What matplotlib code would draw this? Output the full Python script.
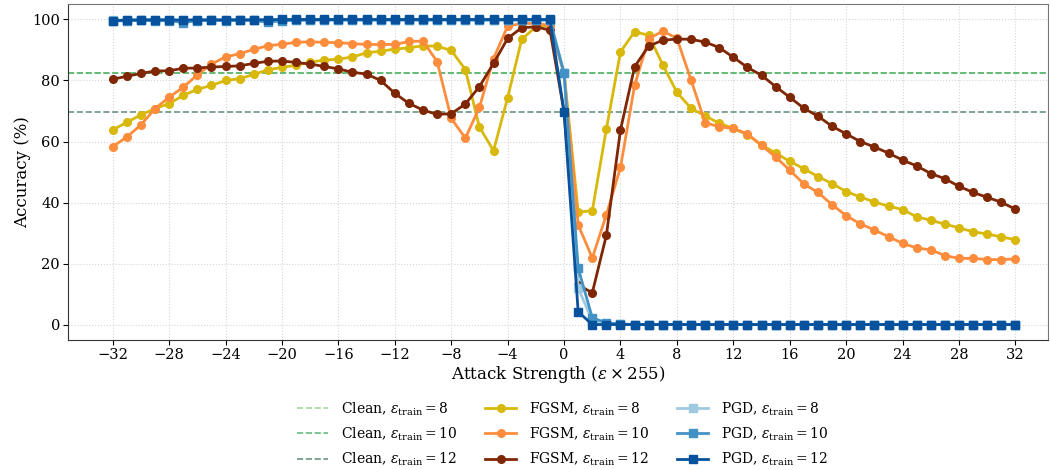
import numpy as np
import matplotlib
matplotlib.use("Agg")
import matplotlib.pyplot as plt

plt.rcParams['font.family'] = ['DejaVu Serif']
plt.rcParams['mathtext.fontset'] = 'dejavuserif'

eps = list(range(-32, 33))

clean_8 = 82.6
clean_10 = 82.3
clean_12 = 69.7

fgsm_8 = [63.8, 66.3, 68.7, 70.8, 72.4, 75.1, 77.1, 78.4, 80.0, 80.6, 82.0, 83.5, 84.3, 85.0,
          86.0, 86.7, 87.0, 87.7, 89.1, 89.6, 90.3, 90.7, 91.4, 91.2, 89.9, 83.6, 64.7, 57.0,
          74.4, 93.5, 97.6, 98.1, 82.6, 36.9, 37.3, 64.1, 89.4, 96.0, 94.8, 85.1, 76.1, 70.9,
          68.4, 66.0, 64.3, 62.2, 58.9, 56.2, 53.5, 51.1, 48.5, 46.2, 43.6, 41.8, 40.2, 38.8,
          37.7, 35.3, 34.2, 32.9, 31.7, 30.4, 29.7, 28.7, 27.8]
fgsm_10 = [58.3, 61.5, 65.4, 70.8, 74.5, 77.8, 81.8, 85.4, 87.7, 88.8, 90.2, 91.4, 91.9, 92.5,
           92.7, 92.5, 92.4, 92.1, 91.8, 91.8, 91.8, 92.8, 92.9, 86.2, 67.6, 61.1, 71.2, 87.2,
           97.8, 98.7, 98.7, 98.1, 82.3, 32.7, 21.8, 36.0, 51.5, 78.4, 93.7, 96.2, 93.8, 80.2,
           66.2, 64.8, 64.3, 62.5, 58.7, 54.9, 50.6, 46.1, 43.3, 39.3, 35.7, 33.0, 31.0, 28.8,
           26.6, 25.1, 24.5, 22.6, 21.7, 21.7, 21.3, 21.3, 21.5]
fgsm_12 = [80.4, 81.4, 82.3, 83.1, 83.2, 84.0, 84.1, 84.4, 84.6, 84.8, 85.6, 86.3, 86.4, 85.9,
           85.4, 84.6, 83.8, 82.7, 82.1, 80.0, 75.8, 72.5, 70.3, 68.9, 69.1, 72.3, 78.0, 85.6,
           93.8, 97.3, 97.6, 96.5, 69.7, 13.0, 10.4, 29.3, 63.8, 84.5, 91.3, 93.2, 93.6, 93.5,
           92.6, 90.8, 87.6, 84.3, 81.7, 78.0, 74.5, 70.9, 68.3, 65.0, 62.5, 60.0, 58.2, 56.2,
           53.9, 52.0, 49.5, 47.8, 45.3, 43.3, 41.7, 40.1, 37.8]

pgd_8 = [99.8, 99.8, 99.9, 99.8, 99.8, 99.7, 99.8, 99.8, 99.9, 99.8, 99.8, 99.9, 99.9, 99.9,
         99.9, 99.9, 99.9, 99.9, 99.9, 99.9, 99.9, 99.9, 99.9, 99.9, 99.9, 99.9, 99.9, 99.9,
         99.9, 99.9, 99.9, 99.9, 82.6, 12.0, 1.2, 0.3, 0.1, 0.0, 0.0, 0.0, 0.0, 0.0,
         0.0, 0.0, 0.0, 0.0, 0.0, 0.0, 0.0, 0.0, 0.0, 0.0, 0.0, 0.0, 0.0, 0.0,
         0.0, 0.0, 0.0, 0.0, 0.0, 0.0, 0.0, 0.0, 0.0]
pgd_10 = [99.5, 99.6, 99.7, 99.6, 99.6, 99.0, 99.6, 99.7, 99.6, 99.7, 99.7, 99.1, 99.6, 99.7,
          99.8, 99.8, 99.8, 99.8, 99.8, 99.8, 99.8, 99.8, 99.8, 99.8, 99.8, 99.8, 99.8, 99.8,
          99.8, 99.8, 99.8, 99.8, 82.3, 18.5, 2.2, 0.6, 0.2, 0.0, 0.0, 0.0, 0.0, 0.0,
          0.0, 0.0, 0.0, 0.0, 0.0, 0.0, 0.0, 0.0, 0.0, 0.0, 0.0, 0.0, 0.0, 0.0,
          0.0, 0.0, 0.0, 0.0, 0.0, 0.0, 0.0, 0.0, 0.0]
pgd_12 = [99.6, 99.8, 99.9, 99.9, 99.9, 99.8, 99.9, 99.9, 99.9, 99.9, 99.9, 99.9, 100.0, 100.0,
          100.0, 100.0, 100.0, 100.0, 100.0, 100.0, 100.0, 100.0, 100.0, 100.0, 100.0, 100.0, 100.0, 100.0,
          100.0, 100.0, 100.0, 100.0, 69.7, 4.2, 0.0, 0.0, 0.0, 0.0, 0.0, 0.0, 0.0, 0.0,
          0.0, 0.0, 0.0, 0.0, 0.0, 0.0, 0.0, 0.0, 0.0, 0.0, 0.0, 0.0, 0.0, 0.0,
          0.0, 0.0, 0.0, 0.0, 0.0, 0.0, 0.0, 0.0, 0.0]

xticks = list(range(-32, 33, 4))
yticks = [0, 20, 40, 60, 80, 100]

fig = plt.figure(figsize=(10.5, 4.7), dpi=100)
ax = fig.add_axes([0.065, 0.277, 0.933, 0.714])

def lab(name, e):
    return name + r", $\varepsilon_{\mathrm{train}} = %d$" % e

ax.axhline(clean_8, color='#a1d99b', ls='--', lw=1.2, label=lab('Clean', 8), zorder=2)
ax.axhline(clean_10, color='#41ab5d', ls='--', lw=1.2, alpha=0.8, label=lab('Clean', 10), zorder=2)
ax.axhline(clean_12, color='#1b5e3a', ls='--', lw=1.2, alpha=0.65, label=lab('Clean', 12), zorder=2)

ax.plot(eps, fgsm_8, color='#d9b80c', marker='o', ms=5.5, lw=2, label=lab('FGSM', 8), zorder=3)
ax.plot(eps, fgsm_10, color='#fd8d3c', marker='o', ms=5.5, lw=2, label=lab('FGSM', 10), zorder=3)
ax.plot(eps, fgsm_12, color='#7f2704', marker='o', ms=5.5, lw=2, label=lab('FGSM', 12), zorder=3)

ax.plot(eps, pgd_8, color='#9ecae1', marker='s', ms=5.5, lw=2, label=lab('PGD', 8), zorder=4)
ax.plot(eps, pgd_10, color='#4292c6', marker='s', ms=5.5, lw=2, label=lab('PGD', 10), zorder=4)
ax.plot(eps, pgd_12, color='#08519c', marker='s', ms=5.5, lw=2, label=lab('PGD', 12), zorder=4)

ax.set_xlim(-35.15, 34.3)
ax.set_ylim(-5, 105)
ax.set_xticks(xticks)
ax.set_yticks(yticks)
ax.tick_params(labelsize=10.5, pad=2.5)
ax.grid(True, ls=':', color='#d5d5d5', lw=0.8)
ax.set_axisbelow(True)
for s in ['left', 'bottom']:
    ax.spines[s].set_color('#333333')
for s in ['top', 'right']:
    ax.spines[s].set_color('#777777')

ax.set_xlabel(r"Attack Strength ($\varepsilon\times255$)", fontsize=12, labelpad=1)
ax.set_ylabel("Accuracy (%)", fontsize=12, labelpad=1)

ax.legend(loc='upper center', bbox_to_anchor=(0.505, -0.143), ncol=3, frameon=False,
          fontsize=10, handlelength=2.2, handletextpad=0.95, columnspacing=2.0,
          labelspacing=0.55)

fig.savefig('out.png', dpi=100)
